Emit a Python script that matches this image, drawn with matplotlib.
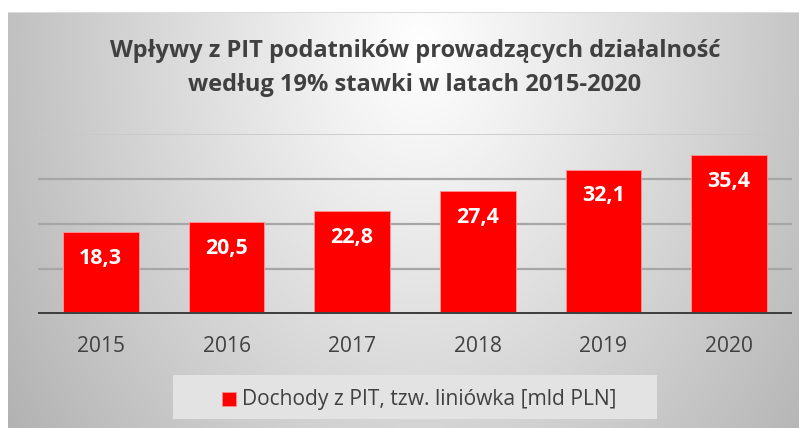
import numpy as np
import matplotlib
matplotlib.use("Agg")
import matplotlib.pyplot as plt
from matplotlib.patches import Rectangle

years = ["2015", "2016", "2017", "2018", "2019", "2020"]
values = [18.3, 20.5, 22.8, 27.4, 32.1, 35.4]
value_labels = ["18,3", "20,5", "22,8", "27,4", "32,1", "35,4"]
title = "Wpływy z PIT podatników prowadzących działalność\nwedług 19% stawki w latach 2015-2020"
series_name = "Dochody z PIT, tzw. liniówka [mld PLN]"

W, H = 799, 428
DPI = 100
plt.rcParams['font.family'] = ['Open Sans', 'DejaVu Sans']

fig = plt.figure(figsize=(W / DPI, H / DPI), dpi=DPI)
renderer = fig.canvas.get_renderer()

def fx(px):
    return px / W

def fy(py):
    return 1 - py / H

def calibrate(text_obj, target_px):
    bb = text_obj.get_window_extent(renderer)
    s = text_obj.get_fontsize()
    text_obj.set_fontsize(s * target_px / bb.width)

# background gradient
bg = fig.add_axes([0, 0, 1, 1], zorder=-10)
yy, xx = np.mgrid[0:H, 0:W].astype(float)
dx = (xx - 420) / 420.0
dy = (yy - 45) / 560.0
d = np.sqrt(dx ** 2 + dy ** 2)
v = 255 - 64 * np.clip(d, 0, 1.3) ** 1.05
v = np.clip(v, 0, 255)
img = np.stack([v, v, v], axis=-1) / 255.0
img[:, :8] = 1.0
img[:12, :] = 1.0
img[12, 8:] = 0.86
bg.imshow(img, extent=[0, W, H, 0], aspect='auto', interpolation='bilinear')
bg.set_xlim(0, W)
bg.set_ylim(H, 0)
bg.axis('off')

# main axes
base_px, top_px = 314, 134
ax = fig.add_axes([fx(38), fy(base_px), fx(792 - 38), (base_px - top_px) / H])
ax.patch.set_alpha(0)
x = np.arange(len(years))
ax.set_xlim(-0.5, len(years) - 0.5)
ax.set_ylim(0, 40)
for g in [10, 20, 30]:
    ax.axhline(g, color='#a6a6a6', lw=1.6, zorder=1)
ax.axhline(40, color='#c8c8c8', lw=1.2, zorder=1)
bars = ax.bar(x, values, width=0.6, color='#ff0000', edgecolor='#ff9090', linewidth=0.7, zorder=3)
ax.axhline(0, color='#404040', lw=3.6, zorder=4)
for s in ax.spines.values():
    s.set_visible(False)
ax.set_yticks([])
ax.set_xticks(x)
ax.set_xticklabels(years, color='#404040', fontsize=14.5)
ax.tick_params(axis='x', length=0, pad=16)

for xi, val, lab in zip(x, values, value_labels):
    t = ax.annotate(lab, (xi, val), xytext=(0, -19), textcoords='offset points',
                    ha='center', va='center', color='white', fontweight='bold', fontsize=14, zorder=5)
    calibrate(t, 43)

for lbl in ax.get_xticklabels():
    calibrate(lbl, 48)

# title
t1 = fig.text(fx(415), fy(57), title.split("\n")[0], ha='center', va='baseline',
              fontsize=16, fontweight='bold', color='#404040')
calibrate(t1, 612)
t2 = fig.text(fx(415), fy(91), title.split("\n")[1], ha='center', va='baseline',
              fontsize=t1.get_fontsize(), fontweight='bold', color='#404040')

# legend box
fig.patches.append(Rectangle((fx(173), fy(419)), fx(657 - 173), (419 - 375) / H,
                             transform=fig.transFigure, facecolor='#e3e3e3', edgecolor='none', zorder=0))
fig.patches.append(Rectangle((fx(222), fy(406)), fx(14), 14 / H,
                             transform=fig.transFigure, facecolor='#ff0000', edgecolor='#ff9090', lw=0.5, zorder=1))
lt = fig.text(fx(242), fy(405), series_name, ha='left', va='baseline', fontsize=14, color='#404040')
calibrate(lt, 376)

fig.savefig("out.png", dpi=DPI)
